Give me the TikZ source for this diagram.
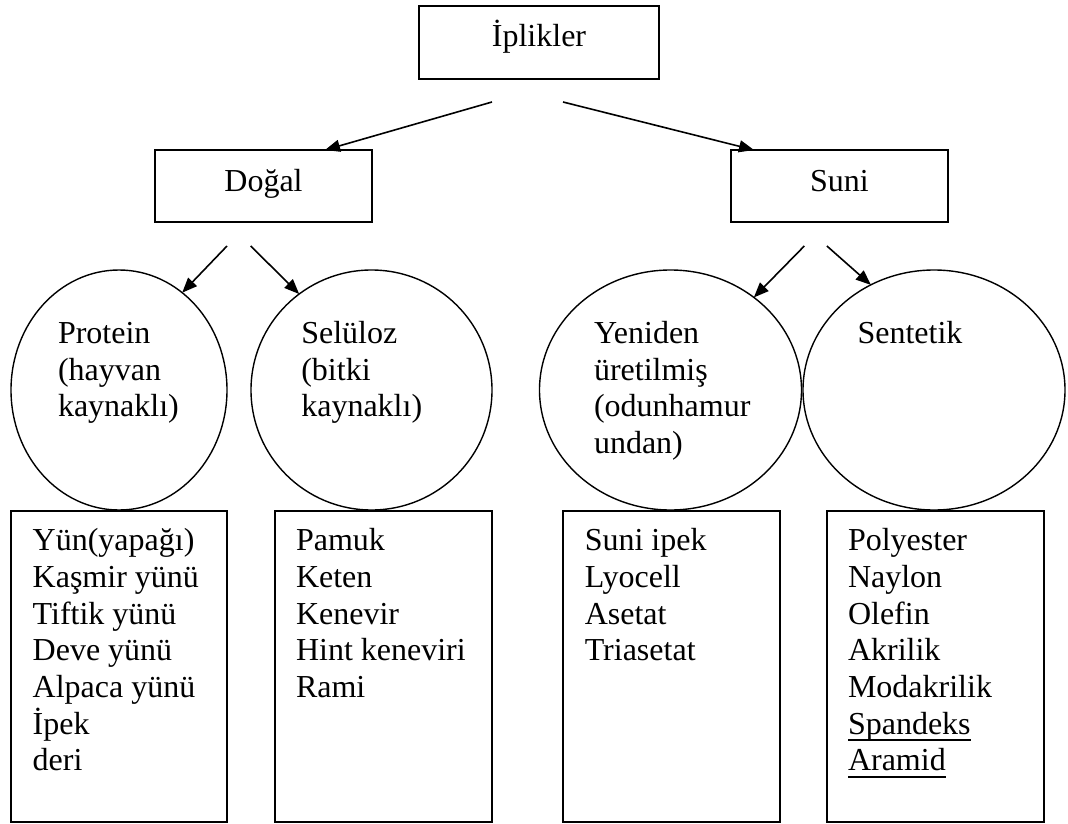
\documentclass[tikz,border=0pt]{standalone}
\usepackage{fontspec}
\setmainfont{Liberation Serif}
\usetikzlibrary{arrows.meta,shapes.geometric}
\newcommand\ulx[1]{\setbox0\hbox{#1}\rlap{\rule[-6.8pt]{\wd0}{1.8pt}}\box0}
\begin{document}
\begin{tikzpicture}[x=1pt,y=-1pt,
  box/.style={draw,line width=1.6pt,rectangle,inner sep=0pt,outer sep=0pt},
  oval/.style={draw,line width=1.4pt,ellipse,inner sep=0pt,outer sep=0pt,minimum height=240pt},
  txt/.style={inner sep=0pt,outer sep=0pt,font=\fontsize{32}{36.7}\selectfont},
  arr/.style={line width=1.6pt,-{Triangle[length=15pt,width=12pt]}}]
\useasboundingbox (0,0) rectangle (1068,824);

% top level
\node[box,minimum width=240pt,minimum height=73pt] (ipl) at (539,42.5) {};
\node[txt,anchor=base] (iplt) at (539,46.7) {İplikler};
\node[box,minimum width=217pt,minimum height=72pt] (dogal) at (263.5,186) {};
\node[txt,anchor=base] (dogalt) at (263.5,191.7) {Doğal};
\node[box,minimum width=217pt,minimum height=72pt] (suni) at (839.5,186) {};
\node[txt,anchor=base] (sunit) at (839.5,191.7) {Suni};

% ellipses
\node[oval,minimum width=216pt] (prot) at (119,390) {};
\node[oval,minimum width=241pt] (selu) at (371.5,390) {};
\node[oval,minimum width=262pt] (yeni) at (670.5,390) {};
\node[oval,minimum width=262pt] (sent) at (934,390) {};

\foreach \t [count=\i] in {{Protein},{(hayvan},{kaynaklı)}}
  \node[txt,anchor=base west] (prot-\i) at (58,{343.3+36.7*(\i-1)}) {\t};
\foreach \t [count=\i] in {{Selüloz},{(bitki},{kaynaklı)}}
  \node[txt,anchor=base west] (selu-\i) at (301.3,{343.3+36.7*(\i-1)}) {\t};
\foreach \t [count=\i] in {{Yeniden},{üretilmiş},{(odunhamur},{undan)}}
  \node[txt,anchor=base west] (yeni-\i) at (594,{343.3+36.7*(\i-1)}) {\t};
\node[txt,anchor=base west] (sent-1) at (857.5,343.3) {Sentetik};

% lower boxes
\node[box,minimum width=216pt,minimum height=311pt] (b1) at (119,666.5) {};
\node[box,minimum width=217pt,minimum height=311pt] (b2) at (383.5,666.5) {};
\node[box,minimum width=217pt,minimum height=311pt] (b3) at (671.5,666.5) {};
\node[box,minimum width=217pt,minimum height=311pt] (b4) at (935.5,666.5) {};

\foreach \t [count=\i] in {{Yün(yapağı)},{Kaşmir yünü},{Tiftik yünü},{Deve yünü},{Alpaca yünü},{İpek},{deri}}
  \node[txt,anchor=base west] (b1-\i) at (32.7,{550.6+36.7*(\i-1)}) {\t};
\foreach \t [count=\i] in {{Pamuk},{Keten},{Kenevir},{Hint keneviri},{Rami}}
  \node[txt,anchor=base west] (b2-\i) at (296,{550.6+36.7*(\i-1)}) {\t};
\foreach \t [count=\i] in {{Suni ipek},{Lyocell},{Asetat},{Triasetat}}
  \node[txt,anchor=base west] (b3-\i) at (584.8,{550.6+36.7*(\i-1)}) {\t};
\foreach \t [count=\i] in {{Polyester},{Naylon},{Olefin},{Akrilik},{Modakrilik},{\ulx{Spandeks}},{\ulx{Aramid}}}
  \node[txt,anchor=base west] (b4-\i) at (848,{550.6+36.7*(\i-1)}) {\t};

% arrows
\coordinate (s1) at (492,102);
\coordinate (s2) at (563,102);
\coordinate (s3) at (227,246);
\coordinate (s4) at (250.7,246);
\coordinate (s5) at (804.3,246);
\coordinate (s6) at (826.9,246);
\draw[arr] (s1) -- ([xshift=61.5pt]dogal.north);
\draw[arr] (s2) -- ([xshift=-85.5pt]suni.north);
\draw[arr] (s3) -- (prot.57.5);
\draw[arr] (s4) -- (selu.127.4);
\draw[arr] (s5) -- (yeni.48.7);
\draw[arr] (s6) -- (sent.121.4);
\end{tikzpicture}
\end{document}
